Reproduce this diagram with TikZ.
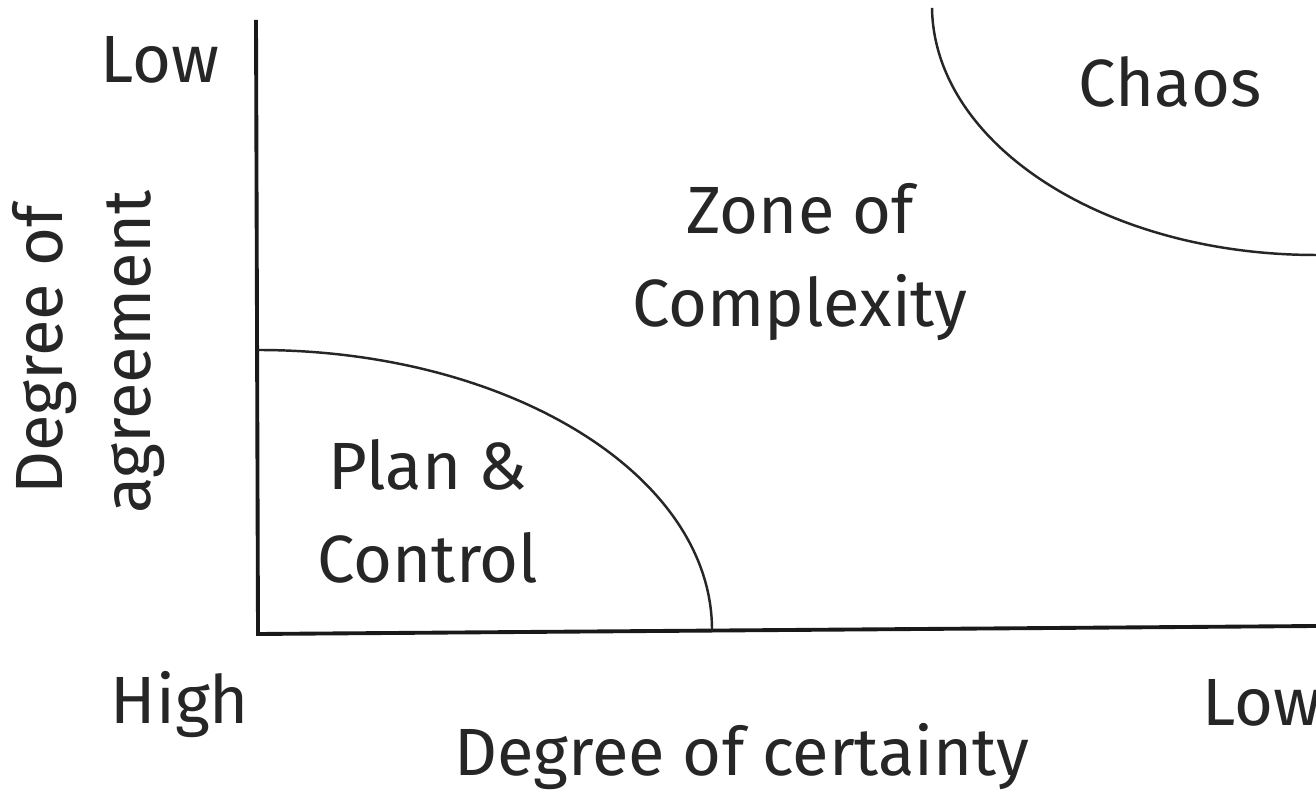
\documentclass[tikz,border=0pt]{standalone}
\usepackage{fontspec}
\setmainfont{Fira Sans}
\begin{document}
\begin{tikzpicture}[x=0.01cm,y=-0.01cm,
  lbl/.style={inner sep=0pt, text=black!85, font=\fontsize{19}{26.5}\selectfont},
  axis/.style={line width=1.1pt, black!90},
  border/.style={line width=0.7pt, black!85}]
\useasboundingbox (0,0) rectangle (1316,792);
\fill[white] (0,0) rectangle (1316,792);

% axes
\coordinate (top) at (256,20);
\coordinate (origin) at (258,634);
\coordinate (xend) at (1316,626);
\draw[axis] (top) -- (origin) -- (xend);

% boundary of the plan & control region
\coordinate (pc1) at (258,350);
\coordinate (pc2) at (712,630);
\draw[border] (pc1) .. controls (509,350) and (712,475) .. (pc2);

% boundary of the chaos region
\coordinate (ch1) at (932,8);
\coordinate (ch2) at (1316,255);
\draw[border] (ch1) .. controls (934,144) and (1104,255) .. (ch2);

% region labels
\node[lbl] (chaos) at (1170,82) {Chaos};
\node[lbl, align=center] (zone) at (800,262) {Zone of\\Complexity};
\node[lbl, align=center] (plan) at (428,511) {Plan \&\\Control};

% axis end labels
\node[lbl] (lowy) at (160,60) {Low};
\node[lbl] (high) at (180,705) {High};
\node[lbl] (lowx) at (1262,703) {Low};

% axis titles
\node[lbl] (xtitle) at (742,757) {Degree of certainty};
\node[lbl, rotate=90] (ytitle1) at (45,350) {Degree of};
\node[lbl, rotate=90] (ytitle2) at (136,352) {agreement};
\end{tikzpicture}
\end{document}
